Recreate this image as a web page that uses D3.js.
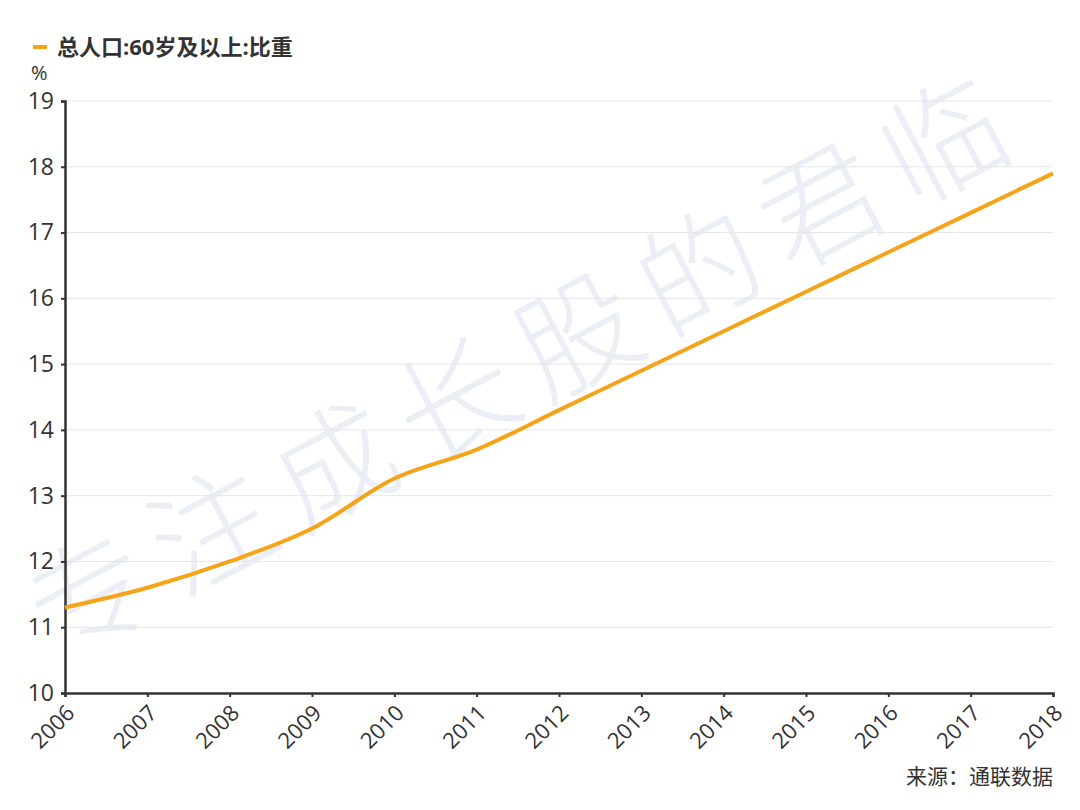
<!DOCTYPE html>
<html>
<head>
<meta charset="utf-8">
<script src="https://cdn.jsdelivr.net/npm/d3@7"></script>
<style>
  body { margin: 0; background: #fff; }
  text { font-family: "Open Sans", "Noto Sans CJK SC", sans-serif; }
</style>
</head>
<body>
<div id="chart"></div>
<script>
const years = [2006, 2007, 2008, 2009, 2010, 2011, 2012, 2013, 2014, 2015, 2016, 2017, 2018]
const share60 = [11.3, 11.6, 12.0, 12.5, 13.26, 13.7, 14.3, 14.9, 15.5, 16.1, 16.7, 17.3, 17.9]
const yTicks = [10, 11, 12, 13, 14, 15, 16, 17, 18, 19]
const seriesName = "总人口:60岁及以上:比重"

let width = 1080,
    height = 810,
    margin = {left: 65, right: 27, top: 101, bottom: 117},
    svg = d3.select("#chart").append("svg")
        .attr("width", width)
        .attr("height", height)

let x = d3.scaleLinear().domain([2006, 2018]).range([margin.left, width - margin.right])
let y = d3.scaleLinear().domain([10, 19]).range([height - margin.bottom, margin.top])

// watermark
svg.append("text")
    .attr("transform", "translate(58,662) rotate(-28)")
    .attr("font-family", "Noto Sans CJK SC")
    .attr("font-weight", 300)
    .attr("font-size", 120)
    .attr("letter-spacing", 18)
    .attr("fill", "#e7eaf2")
    .attr("opacity", 0.8)
    .text("专注成长股的君临")

// grid
svg.append("g").selectAll("line")
    .data(yTicks.slice(1))
    .enter().append("line")
    .attr("x1", margin.left).attr("x2", width - margin.right)
    .attr("y1", d => y(d)).attr("y2", d => y(d))
    .attr("stroke", "#e6e6e6").attr("stroke-width", 1)

// y axis
let yAxis = svg.append("g")
    .attr("transform", "translate(" + margin.left + ",0)")
    .call(d3.axisLeft(y).tickValues(yTicks).tickSize(4).tickPadding(7).tickFormat(d3.format("d")))
yAxis.select(".domain").attr("stroke", "#333").attr("stroke-width", 2.5)
yAxis.selectAll(".tick line").attr("stroke", "#333").attr("stroke-width", 2)
yAxis.selectAll(".tick text").attr("font-size", 23).attr("fill", "#333")
    .attr("font-family", "Open Sans")

// x axis
let xAxis = svg.append("g")
    .attr("transform", "translate(0," + (height - margin.bottom) + ")")
    .call(d3.axisBottom(x).tickValues(years).tickSize(4).tickSizeOuter(4).tickFormat(d3.format("d")))
xAxis.select(".domain").attr("stroke", "#333").attr("stroke-width", 2.5)
xAxis.selectAll(".tick line").attr("stroke", "#333").attr("stroke-width", 2)
xAxis.selectAll(".tick text")
    .attr("font-size", 22).attr("fill", "#333")
    .attr("font-family", "Open Sans")
    .attr("text-anchor", "end")
    .attr("dy", "0.35em")
    .attr("transform", "translate(5,16) rotate(-45)")
    .attr("y", 0).attr("x", 0)

// line
let line = d3.line()
    .x((d, i) => x(years[i]))
    .y(d => y(d))
    .curve(d3.curveMonotoneX)
svg.append("path")
    .datum(share60)
    .attr("fill", "none")
    .attr("stroke", "#f5a318")
    .attr("stroke-width", 4)
    .attr("stroke-linejoin", "round")
    .attr("d", line)

// legend
svg.append("rect")
    .attr("x", 33).attr("y", 45).attr("width", 14).attr("height", 4)
    .attr("fill", "#f5a318")
svg.append("text")
    .attr("x", 57).attr("y", 55)
    .attr("font-family", "Noto Sans CJK SC")
    .attr("font-weight", 700)
    .attr("font-size", 22)
    .attr("fill", "#333")
    .text(seriesName)

// unit
svg.append("text")
    .attr("x", 31).attr("y", 80)
    .attr("font-size", 20).attr("fill", "#333")
    .text("%")

// source
svg.append("text")
    .attr("x", 1053).attr("y", 784)
    .attr("text-anchor", "end")
    .attr("font-family", "Noto Sans CJK SC")
    .attr("font-size", 21).attr("fill", "#333")
    .text("来源：通联数据")
</script>
</body>
</html>
